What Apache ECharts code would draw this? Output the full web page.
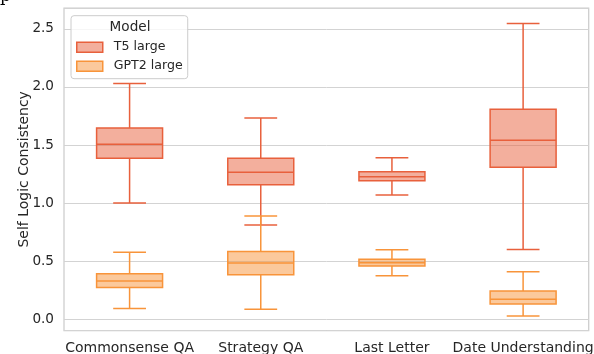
<!DOCTYPE html>
<html>
<head>
<meta charset="utf-8">
<script src="https://cdn.jsdelivr.net/npm/echarts@6/dist/echarts.min.js"></script>
<style>
html,body{margin:0;padding:0;background:#fff;}
#chart{width:594px;height:354px;}
</style>
</head>
<body>
<div id="chart"></div>
<script>
const categories = ['Commonsense QA', 'Strategy QA', 'Last Letter', 'Date Understanding'];
const seriesNames = ['T5 large', 'GPT2 large'];
const yTickValues = [0.0, 0.5, 1.0, 1.5, 2.0, 2.5];

// T5 large box statistics
const t5Low    = [1.00, 0.81, 1.07, 0.60];
const t5Q1     = [1.385, 1.158, 1.192, 1.308];
const t5Median = [1.506, 1.265, 1.227, 1.54];
const t5Q3     = [1.647, 1.385, 1.27, 1.808];
const t5High   = [2.03, 1.733, 1.39, 2.546];

// GPT2 large box statistics
const gptLow    = [0.092, 0.084, 0.373, 0.026];
const gptQ1     = [0.273, 0.382, 0.457, 0.129];
const gptMedian = [0.328, 0.483, 0.485, 0.172];
const gptQ3     = [0.39, 0.583, 0.515, 0.241];
const gptHigh   = [0.575, 0.888, 0.598, 0.408];

const T5_EDGE = '#e8603c', T5_FILL = 'rgba(232,96,60,0.5)';
const GPT_EDGE = '#f8943a', GPT_FILL = 'rgba(248,148,58,0.5)';
const TEXT = '#262626';

function buildData(low, q1, med, q3, high) {
  return categories.map((c, i) => [i, low[i], q1[i], med[i], q3[i], high[i]]);
}

function makeRender(edge, fill) {
  return function (params, api) {
    const x = api.value(0);
    const low = api.coord([x, api.value(1)]);
    const q1 = api.coord([x, api.value(2)]);
    const med = api.coord([x, api.value(3)]);
    const q3 = api.coord([x, api.value(4)]);
    const high = api.coord([x, api.value(5)]);
    const band = api.size([1, 0])[0];
    const bw = band * 0.503;
    const cw = band * 0.25;
    const cx = low[0];
    const ls = { stroke: edge, lineWidth: 1.5, fill: null };
    return {
      type: 'group',
      children: [
        { type: 'line', shape: { x1: cx, y1: q3[1], x2: cx, y2: high[1] }, style: ls },
        { type: 'line', shape: { x1: cx, y1: q1[1], x2: cx, y2: low[1] }, style: ls },
        { type: 'line', shape: { x1: cx - cw / 2, y1: high[1], x2: cx + cw / 2, y2: high[1] }, style: ls },
        { type: 'line', shape: { x1: cx - cw / 2, y1: low[1], x2: cx + cw / 2, y2: low[1] }, style: ls },
        { type: 'rect', shape: { x: cx - bw / 2, y: q3[1], width: bw, height: q1[1] - q3[1] },
          style: { fill: fill, stroke: edge, lineWidth: 1.5 } },
        { type: 'line', shape: { x1: cx - bw / 2, y1: med[1], x2: cx + bw / 2, y2: med[1] }, style: ls }
      ]
    };
  };
}

const chart = echarts.init(document.getElementById('chart'), null, { renderer: 'canvas' });
const FONT = 'DejaVu Sans';

chart.setOption({
  animation: false,
  textStyle: { fontFamily: FONT },
  grid: {
    left: 64, right: 5.3, top: 8, bottom: 23.3,
    outerBoundsMode: 'none',
    containLabel: false,
    show: true, borderColor: '#cccccc', borderWidth: 1.25, backgroundColor: 'transparent'
  },
  xAxis: {
    type: 'category',
    data: categories,
    axisLine: { show: false },
    axisTick: { show: false },
    splitLine: { show: false },
    axisLabel: { fontFamily: FONT, fontSize: 14, color: TEXT, margin: 11, interval: 0, hideOverlap: false }
  },
  yAxis: {
    type: 'value',
    min: -0.1,
    max: 2.68,
    splitNumber: 5,
    name: 'Self Logic Consistency',
    nameLocation: 'middle',
    nameGap: 33,
    nameMoveOverlap: false,
    nameTextStyle: { fontFamily: FONT, fontSize: 14, color: TEXT },
    axisLine: { show: false },
    axisTick: { show: false },
    splitLine: { show: true, lineStyle: { color: '#d3d3d3', width: 1 } },
    axisLabel: {
      fontFamily: FONT, fontSize: 13.6, color: TEXT, margin: 10,
      showMinLabel: false, showMaxLabel: false,
      formatter: v => (yTickValues.some(t => Math.abs(t - v) < 1e-6) ? v.toFixed(1) : '')
    }
  },
  legend: {
    orient: 'vertical',
    left: 71, top: 15.7,
    padding: [25, 5, 6, 5],
    itemWidth: 26, itemHeight: 10, itemGap: 6,
    backgroundColor: 'rgba(255,255,255,0.8)',
    borderColor: '#cccccc', borderWidth: 1, borderRadius: 3,
    textStyle: { fontFamily: FONT, fontSize: 12.6, color: TEXT, padding: [0, 0, 0, 6] },
    data: [
      { name: seriesNames[0], icon: 'rect', itemStyle: { color: T5_FILL, borderColor: T5_EDGE, borderWidth: 1.5 } },
      { name: seriesNames[1], icon: 'rect', itemStyle: { color: GPT_FILL, borderColor: GPT_EDGE, borderWidth: 1.5 } }
    ]
  },
  graphic: [
    { type: 'text', x: 130, y: 27, z: 100, silent: true,
      style: { text: 'Model', fontFamily: FONT, fontSize: 13.6, fill: TEXT, align: 'center', verticalAlign: 'middle' } },
    { type: 'text', x: 0, y: -12, z: 100, silent: true,
      style: { text: 'p', fontFamily: 'DejaVu Serif', fontSize: 17, fill: '#000' } }
  ],
  series: [
    {
      name: seriesNames[0], type: 'custom',
      itemStyle: { color: T5_FILL, borderColor: T5_EDGE },
      renderItem: makeRender(T5_EDGE, T5_FILL),
      encode: { x: 0, y: [1, 2, 3, 4, 5] },
      data: buildData(t5Low, t5Q1, t5Median, t5Q3, t5High)
    },
    {
      name: seriesNames[1], type: 'custom',
      itemStyle: { color: GPT_FILL, borderColor: GPT_EDGE },
      renderItem: makeRender(GPT_EDGE, GPT_FILL),
      encode: { x: 0, y: [1, 2, 3, 4, 5] },
      data: buildData(gptLow, gptQ1, gptMedian, gptQ3, gptHigh)
    }
  ]
});
</script>
</body>
</html>
